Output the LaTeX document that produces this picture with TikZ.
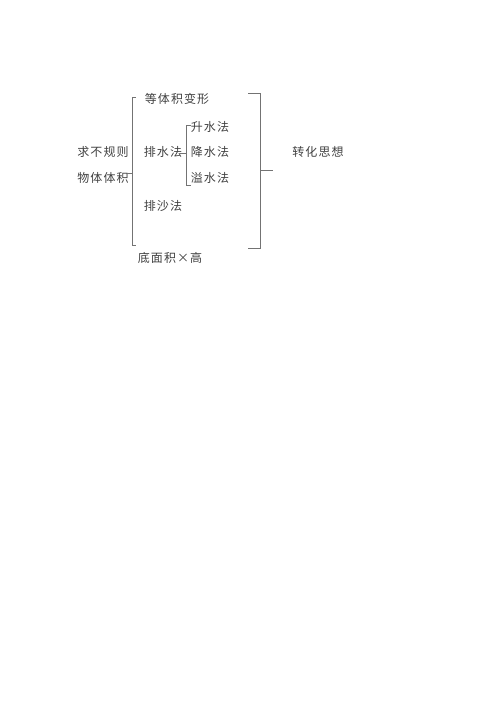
\documentclass[tikz,border=0pt]{standalone}
\usepackage{fontspec}
\setmainfont{Noto Sans CJK SC}[LetterSpace=9]
\usetikzlibrary{positioning}

\begin{document}
\begin{tikzpicture}[x=0.75pt, y=-0.75pt,
    word/.style={inner sep=0pt, font=\fontsize{9}{11}\selectfont, text=black!75},
    brack/.style={draw=black!55, line width=0.6pt}]
    \useasboundingbox (0,0) rectangle (500,707);

    % Nodes
    \node[word] (ask)   at (103,152) {求不规则};
    \node[word] (body)  at (103,178) {物体体积};
    \node[word] (same)  at (177,99)  {等体积变形};
    \node[word] (drain) at (163,152) {排水法};
    \node[word] (up)    at (210,127) {升水法};
    \node[word] (down)  at (210,152) {降水法};
    \node[word] (over)  at (210,178) {溢水法};
    \node[word] (sand)  at (163,206) {排沙法};
    \node[word] (base)  at (170,258) {底面积×高};
    \node[word] (idea)  at (318,152) {转化思想};

    % Bracket corners
    \coordinate (l1) at (132,97);
    \coordinate (l2) at (132,245);
    \coordinate (lm) at (132,173);
    \coordinate (i1) at (186,125);
    \coordinate (i2) at (186,185);
    \coordinate (im) at (186,153);
    \coordinate (r1) at (260,93);
    \coordinate (r2) at (260,248);
    \coordinate (rm) at (260,170);

    % Brackets
    \draw[brack] ([xshift=3]l1) -- (l1) -- (l2) -- ([xshift=3]l2);
    \draw[brack] ([xshift=-4]lm) -- (lm);
    \draw[brack] ([xshift=4]i1) -- (i1) -- (i2) -- ([xshift=4]i2);
    \draw[brack] ([xshift=-5]im) -- (im);
    \draw[brack] ([xshift=-9]r1) -- (r1) -- (r2) -- ([xshift=-9]r2);
    \draw[brack] (rm) -- ([xshift=10]rm);
\end{tikzpicture}
\end{document}
